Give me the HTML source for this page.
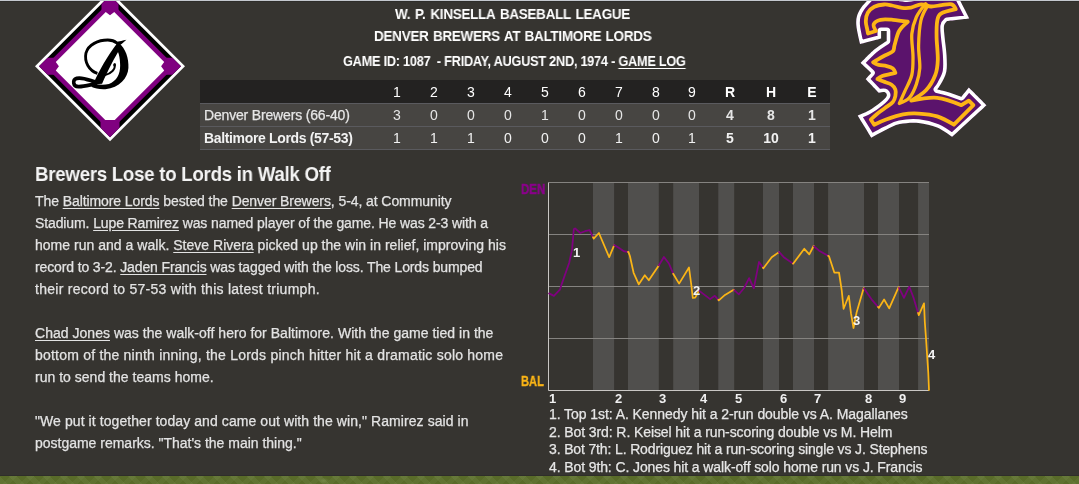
<!DOCTYPE html>
<html><head><meta charset="utf-8"><style>
html,body{margin:0;padding:0;}
body{width:1079px;height:484px;overflow:hidden;background:#363430;position:relative;font-family:"Liberation Sans",sans-serif;}
.abs{position:absolute;}
.t{position:absolute;white-space:pre;line-height:1;will-change:transform;}
.c{text-align:center;}
u{text-decoration:underline;text-underline-offset:1.5px;text-decoration-thickness:1px;}
</style></head><body>
<div class="abs" style="left:0;top:1px;width:1079px;height:1px;background:#2e2d2a"></div>
<svg class="abs" style="left:0;top:0" width="200" height="150" viewBox="0 0 200 150">
<polygon points="110,-8.700000000000003 185,66.3 110,141.3 35,66.3" fill="#ffffff"/>
<polygon points="110,-4.700000000000003 181,66.3 110,137.3 39,66.3" fill="#000000"/>
<polygon points="110,1.2999999999999972 175,66.3 110,131.3 45,66.3" fill="#800080"/>
<polygon points="110,7.799999999999997 168.5,66.3 110,124.8 51.5,66.3" fill="#ffffff"/>
<polygon points="39,66.3 47.6,57.8 55.8,57.8 55.8,62 58.9,66.3 55.8,70.6 55.8,74.8 47.6,74.8" fill="#800080" transform="rotate(0 110 66.3)"/>
<polygon points="39,66.3 47.6,57.8 55.8,57.8 55.8,62 58.9,66.3 55.8,70.6 55.8,74.8 47.6,74.8" fill="#800080" transform="rotate(90 110 66.3)"/>
<polygon points="39,66.3 47.6,57.8 55.8,57.8 55.8,62 58.9,66.3 55.8,70.6 55.8,74.8 47.6,74.8" fill="#800080" transform="rotate(180 110 66.3)"/>
<polygon points="39,66.3 48.5,56.8 56.3,56.8 56.3,75.8 48.5,75.8" fill="#800080" transform="rotate(270 110 66.3)"/>
<g transform="translate(70,34.5) scale(0.118,0.1245)"><path d="M232,312 C160,290 120,220 135,150 C155,80 240,45 320,45 C350,45 380,55 395,68" fill="none" stroke="#000" stroke-width="24"/><path d="M382,62 C420,55 450,48 478,42 C455,62 430,82 405,98 Z" fill="#000"/><path d="M415,70 C470,110 500,190 495,270 C490,350 420,430 300,440 C250,443 210,432 180,420 L215,398 C250,405 290,408 330,398 C395,372 425,318 425,250 C425,180 410,132 385,102 Z" fill="#000"/><path d="M398,72 L432,102 C380,180 320,290 272,395 L195,402 C240,300 320,170 398,72 Z" fill="#000"/><path d="M232,386 C180,376 110,338 58,352 C18,364 22,420 75,418 C125,418 175,402 228,394" fill="none" stroke="#000" stroke-width="30"/><path d="M380,240 C385,280 350,315 298,325" fill="none" stroke="#000" stroke-width="17" stroke-linecap="round"/><circle cx="377" cy="244" r="11" fill="#000"/></g>
</svg>
<svg class="abs" style="left:0;top:0" width="1079" height="160" viewBox="0 0 1079 160">
<defs><clipPath id="cl"><path d="M870.60,-3.00 C870.60,-3.00 897.00,-3.00 897.00,-3.00 C897.00,-3.00 903.83,-1.60 907.00,-1.60 C910.17,-1.60 916.00,-3.00 916.00,-3.00 C916.00,-3.00 958.30,-3.00 958.30,-3.00 C958.30,-3.00 969.40,18.60 969.40,18.60 C969.40,18.60 947.10,21.10 947.10,21.10 C947.10,21.10 944.42,23.32 944.00,26.00 C943.58,28.68 944.18,32.37 944.60,37.20 C945.02,42.03 946.22,49.25 946.50,55.00 C946.78,60.75 947.22,66.90 946.30,71.70 C945.38,76.50 942.52,80.85 941.00,83.80 C939.48,86.75 937.20,89.40 937.20,89.40 C937.20,89.40 944.27,90.97 948.30,92.20 C952.33,93.43 961.40,96.80 961.40,96.80 C961.40,96.80 968.80,87.50 968.80,87.50 C968.80,87.50 986.50,105.20 986.50,105.20 C986.50,105.20 952.10,136.80 952.10,136.80 C952.10,136.80 942.78,129.82 937.20,127.50 C931.62,125.18 924.85,123.47 918.60,122.90 C912.35,122.33 905.12,122.95 899.70,124.10 C894.28,125.25 890.83,127.53 886.10,129.80 C881.37,132.07 871.30,137.70 871.30,137.70 C871.30,137.70 857.70,115.60 857.70,115.60 C857.70,115.60 865.22,112.68 869.00,110.50 C872.78,108.32 877.45,104.93 880.40,102.50 C883.35,100.07 886.02,97.63 886.70,95.90 C887.38,94.17 885.83,92.62 884.50,92.10 C883.17,91.58 878.70,92.80 878.70,92.80 C878.70,92.80 865.60,79.10 865.60,79.10 C865.60,79.10 871.20,72.90 871.20,72.90 C871.20,72.90 860.70,63.00 860.70,63.00 C860.70,63.00 869.97,53.28 874.30,49.60 C878.63,45.92 886.70,40.90 886.70,40.90 C886.70,40.90 886.70,31.00 886.70,31.00 C886.70,31.00 881.10,31.00 881.10,31.00 C881.10,31.00 881.10,38.40 881.10,38.40 C881.10,38.40 860.10,44.00 860.10,44.00 C860.10,44.00 858.83,39.20 858.20,36.00 C857.57,32.80 856.50,28.12 856.30,24.80 C856.10,21.48 856.17,19.00 857.00,16.10 C857.83,13.20 859.03,10.58 861.30,7.40 C863.57,4.22 870.60,-3.00 870.60,-3.00 Z"/></clipPath></defs>
<path d="M870.60,-3.00 C870.60,-3.00 897.00,-3.00 897.00,-3.00 C897.00,-3.00 903.83,-1.60 907.00,-1.60 C910.17,-1.60 916.00,-3.00 916.00,-3.00 C916.00,-3.00 958.30,-3.00 958.30,-3.00 C958.30,-3.00 969.40,18.60 969.40,18.60 C969.40,18.60 947.10,21.10 947.10,21.10 C947.10,21.10 944.42,23.32 944.00,26.00 C943.58,28.68 944.18,32.37 944.60,37.20 C945.02,42.03 946.22,49.25 946.50,55.00 C946.78,60.75 947.22,66.90 946.30,71.70 C945.38,76.50 942.52,80.85 941.00,83.80 C939.48,86.75 937.20,89.40 937.20,89.40 C937.20,89.40 944.27,90.97 948.30,92.20 C952.33,93.43 961.40,96.80 961.40,96.80 C961.40,96.80 968.80,87.50 968.80,87.50 C968.80,87.50 986.50,105.20 986.50,105.20 C986.50,105.20 952.10,136.80 952.10,136.80 C952.10,136.80 942.78,129.82 937.20,127.50 C931.62,125.18 924.85,123.47 918.60,122.90 C912.35,122.33 905.12,122.95 899.70,124.10 C894.28,125.25 890.83,127.53 886.10,129.80 C881.37,132.07 871.30,137.70 871.30,137.70 C871.30,137.70 857.70,115.60 857.70,115.60 C857.70,115.60 865.22,112.68 869.00,110.50 C872.78,108.32 877.45,104.93 880.40,102.50 C883.35,100.07 886.02,97.63 886.70,95.90 C887.38,94.17 885.83,92.62 884.50,92.10 C883.17,91.58 878.70,92.80 878.70,92.80 C878.70,92.80 865.60,79.10 865.60,79.10 C865.60,79.10 871.20,72.90 871.20,72.90 C871.20,72.90 860.70,63.00 860.70,63.00 C860.70,63.00 869.97,53.28 874.30,49.60 C878.63,45.92 886.70,40.90 886.70,40.90 C886.70,40.90 886.70,31.00 886.70,31.00 C886.70,31.00 881.10,31.00 881.10,31.00 C881.10,31.00 881.10,38.40 881.10,38.40 C881.10,38.40 860.10,44.00 860.10,44.00 C860.10,44.00 858.83,39.20 858.20,36.00 C857.57,32.80 856.50,28.12 856.30,24.80 C856.10,21.48 856.17,19.00 857.00,16.10 C857.83,13.20 859.03,10.58 861.30,7.40 C863.57,4.22 870.60,-3.00 870.60,-3.00 Z" fill="#5b136c"/>
<g clip-path="url(#cl)" fill="none" stroke-linejoin="round"><path d="M870.60,-3.00 C870.60,-3.00 897.00,-3.00 897.00,-3.00 C897.00,-3.00 903.83,-1.60 907.00,-1.60 C910.17,-1.60 916.00,-3.00 916.00,-3.00 C916.00,-3.00 958.30,-3.00 958.30,-3.00 C958.30,-3.00 969.40,18.60 969.40,18.60 C969.40,18.60 947.10,21.10 947.10,21.10 C947.10,21.10 944.42,23.32 944.00,26.00 C943.58,28.68 944.18,32.37 944.60,37.20 C945.02,42.03 946.22,49.25 946.50,55.00 C946.78,60.75 947.22,66.90 946.30,71.70 C945.38,76.50 942.52,80.85 941.00,83.80 C939.48,86.75 937.20,89.40 937.20,89.40 C937.20,89.40 944.27,90.97 948.30,92.20 C952.33,93.43 961.40,96.80 961.40,96.80 C961.40,96.80 968.80,87.50 968.80,87.50 C968.80,87.50 986.50,105.20 986.50,105.20 C986.50,105.20 952.10,136.80 952.10,136.80 C952.10,136.80 942.78,129.82 937.20,127.50 C931.62,125.18 924.85,123.47 918.60,122.90 C912.35,122.33 905.12,122.95 899.70,124.10 C894.28,125.25 890.83,127.53 886.10,129.80 C881.37,132.07 871.30,137.70 871.30,137.70 C871.30,137.70 857.70,115.60 857.70,115.60 C857.70,115.60 865.22,112.68 869.00,110.50 C872.78,108.32 877.45,104.93 880.40,102.50 C883.35,100.07 886.02,97.63 886.70,95.90 C887.38,94.17 885.83,92.62 884.50,92.10 C883.17,91.58 878.70,92.80 878.70,92.80 C878.70,92.80 865.60,79.10 865.60,79.10 C865.60,79.10 871.20,72.90 871.20,72.90 C871.20,72.90 860.70,63.00 860.70,63.00 C860.70,63.00 869.97,53.28 874.30,49.60 C878.63,45.92 886.70,40.90 886.70,40.90 C886.70,40.90 886.70,31.00 886.70,31.00 C886.70,31.00 881.10,31.00 881.10,31.00 C881.10,31.00 881.10,38.40 881.10,38.40 C881.10,38.40 860.10,44.00 860.10,44.00 C860.10,44.00 858.83,39.20 858.20,36.00 C857.57,32.80 856.50,28.12 856.30,24.80 C856.10,21.48 856.17,19.00 857.00,16.10 C857.83,13.20 859.03,10.58 861.30,7.40 C863.57,4.22 870.60,-3.00 870.60,-3.00 Z" stroke="#ffffff" stroke-width="7.2"/></g>
<path d="M951.70,4.30 C954.08,4.98 955.80,9.20 955.80,9.20 C955.80,9.20 944.00,11.62 940.90,13.60 C937.80,15.58 937.92,17.17 937.20,21.10 C936.48,25.03 936.50,30.72 936.60,37.20 C936.70,43.68 938.02,53.70 937.80,60.00 C937.58,66.30 937.27,69.95 935.30,75.00 C933.33,80.05 930.02,86.03 926.00,90.30 C921.98,94.57 911.20,100.60 911.20,100.60 C911.20,100.60 928.83,97.03 937.20,97.80 C945.57,98.57 961.40,105.20 961.40,105.20 C961.40,105.20 968.80,100.60 968.80,100.60 C968.80,100.60 973.40,105.20 973.40,105.20 C973.40,105.20 953.90,124.70 953.90,124.70 C953.90,124.70 943.08,118.25 937.20,116.40 C931.32,114.55 924.28,113.93 918.60,113.60 C912.92,113.27 908.52,113.42 903.10,114.40 C897.68,115.38 890.92,117.78 886.10,119.50 C881.28,121.22 874.20,124.70 874.20,124.70 C874.20,124.70 870.80,119.50 870.80,119.50 C870.80,119.50 874.63,115.82 877.00,113.90 C879.37,111.98 882.35,109.98 885.00,108.00 C887.65,106.02 891.17,104.03 892.90,102.00 C894.63,99.97 894.98,97.87 895.40,95.80 C895.82,93.73 896.03,91.45 895.40,89.60 C894.77,87.75 893.57,86.03 891.60,84.70 C889.63,83.37 885.97,82.53 883.60,81.60 C881.23,80.67 877.40,79.10 877.40,79.10 C877.40,79.10 880.23,76.83 882.30,76.00 C884.37,75.17 887.62,74.62 889.80,74.10 C891.98,73.58 895.40,72.90 895.40,72.90 C895.40,72.90 894.35,69.63 892.90,68.50 C891.45,67.37 889.08,66.72 886.70,66.10 C884.32,65.48 880.87,65.43 878.60,64.80 C876.33,64.17 873.10,62.30 873.10,62.30 C873.10,62.30 876.05,60.43 878.00,59.30 C879.95,58.17 882.32,56.85 884.80,55.50 C887.28,54.15 891.27,52.95 892.90,51.20 C894.53,49.45 893.57,48.37 894.60,45.00 C895.63,41.63 896.90,34.88 899.10,31.00 C901.30,27.12 907.80,21.70 907.80,21.70 C907.80,21.70 897.45,20.12 892.90,19.80 C888.35,19.48 883.70,19.07 880.50,19.80 C877.30,20.53 874.45,22.33 873.70,24.20 C872.95,26.07 876.00,31.00 876.00,31.00 C876.00,31.00 868.00,33.50 868.00,33.50 C868.00,33.50 867.67,31.77 867.30,29.70 C866.93,27.63 865.72,23.92 865.80,21.10 C865.88,18.28 866.38,15.18 867.80,12.80 C869.22,10.42 871.57,8.18 874.30,6.80 C877.03,5.42 881.25,4.72 884.20,4.50 C887.15,4.28 889.03,4.95 892.00,5.50 C894.97,6.05 898.83,7.45 902.00,7.80 C905.17,8.15 907.80,8.18 911.00,7.60 C914.20,7.02 917.87,4.48 921.20,4.30 C924.53,4.12 927.62,6.37 931.00,6.50 C934.38,6.63 938.05,5.47 941.50,5.10 C944.95,4.73 949.32,3.62 951.70,4.30 Z" fill="none" stroke="#fdb515" stroke-width="3.8" stroke-linejoin="round"/>
<path d="M925.50,3.70 C925.50,3.70 918.68,11.95 916.40,17.00 C914.12,22.05 912.37,27.37 911.80,34.00 C911.23,40.63 913.00,49.97 913.00,56.80 C913.00,63.63 913.13,69.32 911.80,75.00 C910.47,80.68 907.08,86.15 905.00,90.90 C902.92,95.65 899.30,103.50 899.30,103.50 C899.30,103.50 906.65,100.93 909.50,97.70 C912.35,94.47 914.68,89.02 916.40,84.10 C918.12,79.18 919.43,74.63 919.80,68.20 C920.17,61.77 918.42,53.45 918.60,45.50 C918.78,37.55 919.42,27.08 920.90,20.50 C922.38,13.92 927.50,6.00 927.50,6.00 C927.50,6.00 925.50,3.70 925.50,3.70 Z" fill="none" stroke="#fdb515" stroke-width="3.3" stroke-linejoin="round"/>
</svg>
<div class="abs" style="left:0;top:0;width:1079px;height:1px;background:#c4c8ce"></div>
<div class="abs" style="left:200px;top:80px;width:630px;height:23px;background:#232221"></div><div class="abs" style="left:200px;top:103px;width:630px;height:1px;background:#5a5a5e"></div><div class="abs" style="left:200px;top:104px;width:630px;height:22px;background:#474542"></div><div class="abs" style="left:200px;top:126px;width:630px;height:1px;background:#5a5a5e"></div><div class="abs" style="left:200px;top:127px;width:630px;height:22px;background:#474542"></div><div class="abs" style="left:200px;top:149px;width:630px;height:1px;background:#5a5a5e"></div><div class="t c" style="left:376.8px;width:40px;top:85.15px;font-size:14px;color:#ffffff">1</div><div class="t c" style="left:376.8px;width:40px;top:108.15px;font-size:14px;color:#e6e6e6">3</div><div class="t c" style="left:376.8px;width:40px;top:130.95px;font-size:14px;color:#f2f2f2">1</div><div class="t c" style="left:413.6px;width:40px;top:85.15px;font-size:14px;color:#ffffff">2</div><div class="t c" style="left:413.6px;width:40px;top:108.15px;font-size:14px;color:#e6e6e6">0</div><div class="t c" style="left:413.6px;width:40px;top:130.95px;font-size:14px;color:#f2f2f2">1</div><div class="t c" style="left:450.6px;width:40px;top:85.15px;font-size:14px;color:#ffffff">3</div><div class="t c" style="left:450.6px;width:40px;top:108.15px;font-size:14px;color:#e6e6e6">0</div><div class="t c" style="left:450.6px;width:40px;top:130.95px;font-size:14px;color:#f2f2f2">1</div><div class="t c" style="left:487.7px;width:40px;top:85.15px;font-size:14px;color:#ffffff">4</div><div class="t c" style="left:487.7px;width:40px;top:108.15px;font-size:14px;color:#e6e6e6">0</div><div class="t c" style="left:487.7px;width:40px;top:130.95px;font-size:14px;color:#f2f2f2">0</div><div class="t c" style="left:524.7px;width:40px;top:85.15px;font-size:14px;color:#ffffff">5</div><div class="t c" style="left:524.7px;width:40px;top:108.15px;font-size:14px;color:#e6e6e6">1</div><div class="t c" style="left:524.7px;width:40px;top:130.95px;font-size:14px;color:#f2f2f2">0</div><div class="t c" style="left:561.7px;width:40px;top:85.15px;font-size:14px;color:#ffffff">6</div><div class="t c" style="left:561.7px;width:40px;top:108.15px;font-size:14px;color:#e6e6e6">0</div><div class="t c" style="left:561.7px;width:40px;top:130.95px;font-size:14px;color:#f2f2f2">0</div><div class="t c" style="left:598.5px;width:40px;top:85.15px;font-size:14px;color:#ffffff">7</div><div class="t c" style="left:598.5px;width:40px;top:108.15px;font-size:14px;color:#e6e6e6">0</div><div class="t c" style="left:598.5px;width:40px;top:130.95px;font-size:14px;color:#f2f2f2">1</div><div class="t c" style="left:635.5px;width:40px;top:85.15px;font-size:14px;color:#ffffff">8</div><div class="t c" style="left:635.5px;width:40px;top:108.15px;font-size:14px;color:#e6e6e6">0</div><div class="t c" style="left:635.5px;width:40px;top:130.95px;font-size:14px;color:#f2f2f2">0</div><div class="t c" style="left:672.3px;width:40px;top:85.15px;font-size:14px;color:#ffffff">9</div><div class="t c" style="left:672.3px;width:40px;top:108.15px;font-size:14px;color:#e6e6e6">0</div><div class="t c" style="left:672.3px;width:40px;top:130.95px;font-size:14px;color:#f2f2f2">1</div><div class="t c" style="left:710.0px;width:40px;top:85.15px;font-size:14px;font-weight:bold;color:#ffffff">R</div><div class="t c" style="left:710.0px;width:40px;top:108.15px;font-size:14px;font-weight:bold;color:#e6e6e6">4</div><div class="t c" style="left:710.0px;width:40px;top:130.95px;font-size:14px;font-weight:bold;color:#f2f2f2">5</div><div class="t c" style="left:751.0px;width:40px;top:85.15px;font-size:14px;font-weight:bold;color:#ffffff">H</div><div class="t c" style="left:751.0px;width:40px;top:108.15px;font-size:14px;font-weight:bold;color:#e6e6e6">8</div><div class="t c" style="left:751.0px;width:40px;top:130.95px;font-size:14px;font-weight:bold;color:#f2f2f2">10</div><div class="t c" style="left:792.2px;width:40px;top:85.15px;font-size:14px;font-weight:bold;color:#ffffff">E</div><div class="t c" style="left:792.2px;width:40px;top:108.15px;font-size:14px;font-weight:bold;color:#e6e6e6">1</div><div class="t c" style="left:792.2px;width:40px;top:130.95px;font-size:14px;font-weight:bold;color:#f2f2f2">1</div>
<svg class="abs" style="left:0;top:0" width="1079" height="484" viewBox="0 0 1079 484">
<rect x="593" y="182.5" width="21.1" height="208.0" fill="#504f4d"/>
<rect x="628" y="182.5" width="30.8" height="208.0" fill="#504f4d"/>
<rect x="673.2" y="182.5" width="25.8" height="208.0" fill="#504f4d"/>
<rect x="718.3" y="182.5" width="15.9" height="208.0" fill="#504f4d"/>
<rect x="763" y="182.5" width="16.0" height="208.0" fill="#504f4d"/>
<rect x="793" y="182.5" width="21.0" height="208.0" fill="#504f4d"/>
<rect x="828.1" y="182.5" width="35.9" height="208.0" fill="#504f4d"/>
<rect x="878" y="182.5" width="21.0" height="208.0" fill="#504f4d"/>
<rect x="918.1" y="182.5" width="10.9" height="208.0" fill="#504f4d"/>
<line x1="548.5" y1="182.5" x2="929" y2="182.5" stroke="#858380" stroke-width="1"/>
<line x1="548.5" y1="234.5" x2="929" y2="234.5" stroke="#858380" stroke-width="1"/>
<line x1="548.5" y1="286.5" x2="929" y2="286.5" stroke="#858380" stroke-width="1"/>
<line x1="548.5" y1="338.5" x2="929" y2="338.5" stroke="#858380" stroke-width="1"/>
<path d="M548.5 182.5 V390.5 H929" fill="none" stroke="#c9c7c4" stroke-width="1"/>
<polyline points="549.1,293.4 553.9,295.9 559.9,289.7 561.7,284.1 569.2,262.8 572.0,249.8 573.8,229.3 575.1,228.4 580.3,233.0 585.0,231.2 589.6,230.2 593.0,237.2" fill="none" stroke="#800080" stroke-width="1.75" stroke-linejoin="round" stroke-linecap="round"/>
<polyline points="593.0,237.2 593.7,238.6 598.9,233.0 609.2,257.2 614.1,245.3" fill="none" stroke="#fbb516" stroke-width="1.75" stroke-linejoin="round" stroke-linecap="round"/>
<polyline points="614.1,245.3 614.2,245.1 618.7,247.7 624.3,251.4 628.0,251.9" fill="none" stroke="#800080" stroke-width="1.75" stroke-linejoin="round" stroke-linecap="round"/>
<polyline points="628.0,251.9 628.4,251.9 629.9,256.0 633.6,272.8 638.8,284.3 644.8,275.2 648.8,280.2 658.8,265.4" fill="none" stroke="#fbb516" stroke-width="1.75" stroke-linejoin="round" stroke-linecap="round"/>
<polyline points="658.8,265.4 659.1,265.0 663.9,257.0 668.9,263.5 673.2,273.7" fill="none" stroke="#800080" stroke-width="1.75" stroke-linejoin="round" stroke-linecap="round"/>
<polyline points="673.2,273.7 673.2,273.7 679.1,283.6 689.0,267.5 691.5,286.5 692.8,298.0 695.2,297.6 699.0,290.6" fill="none" stroke="#fbb516" stroke-width="1.75" stroke-linejoin="round" stroke-linecap="round"/>
<polyline points="699.0,290.6 699.0,290.6 710.1,299.1 714.8,295.8 718.3,299.8" fill="none" stroke="#800080" stroke-width="1.75" stroke-linejoin="round" stroke-linecap="round"/>
<polyline points="718.3,299.8 718.8,300.4 725.0,294.9 733.7,289.8 734.2,290.2" fill="none" stroke="#fbb516" stroke-width="1.75" stroke-linejoin="round" stroke-linecap="round"/>
<polyline points="734.2,290.2 738.9,294.3 744.1,288.0 749.1,278.1 753.8,288.3 759.0,261.9 763.0,267.7" fill="none" stroke="#800080" stroke-width="1.75" stroke-linejoin="round" stroke-linecap="round"/>
<polyline points="763.0,267.7 763.4,268.3 771.7,257.2 779.0,252.1" fill="none" stroke="#fbb516" stroke-width="1.75" stroke-linejoin="round" stroke-linecap="round"/>
<polyline points="779.0,252.1 779.2,252.0 783.8,257.2 793.0,263.6" fill="none" stroke="#800080" stroke-width="1.75" stroke-linejoin="round" stroke-linecap="round"/>
<polyline points="793.0,263.6 793.1,263.7 804.3,248.8 809.3,254.4 813.6,246.0 814.0,246.3" fill="none" stroke="#fbb516" stroke-width="1.75" stroke-linejoin="round" stroke-linecap="round"/>
<polyline points="814.0,246.3 819.1,250.7 828.1,255.8" fill="none" stroke="#800080" stroke-width="1.75" stroke-linejoin="round" stroke-linecap="round"/>
<polyline points="828.1,255.8 829.0,256.3 834.3,272.5 839.0,272.5 841.7,290.2 843.6,308.8 848.8,295.8 851.0,313.4 853.5,328.0 856.6,312.5 863.7,288.0 864.0,288.4" fill="none" stroke="#fbb516" stroke-width="1.75" stroke-linejoin="round" stroke-linecap="round"/>
<polyline points="864.0,288.4 872.4,300.4 878.0,306.9" fill="none" stroke="#800080" stroke-width="1.75" stroke-linejoin="round" stroke-linecap="round"/>
<polyline points="878.0,306.9 878.9,307.9 884.1,299.5 889.2,308.4 898.6,287.1 899.0,287.9" fill="none" stroke="#fbb516" stroke-width="1.75" stroke-linejoin="round" stroke-linecap="round"/>
<polyline points="899.0,287.9 904.0,297.9 909.3,286.7 913.6,297.9 918.1,312.9" fill="none" stroke="#800080" stroke-width="1.75" stroke-linejoin="round" stroke-linecap="round"/>
<polyline points="918.1,312.9 918.8,315.2 924.0,303.3 924.8,321.7 926.0,338.3 927.1,355.0 928.3,372.9 929.0,390.0" fill="none" stroke="#fbb516" stroke-width="1.75" stroke-linejoin="round" stroke-linecap="round"/>
</svg>
<div class="t" style="left:549.3px;top:391.60px;font-size:13px;font-weight:bold;color:#f0f0f0">1</div><div class="t" style="left:614.6px;top:391.60px;font-size:13px;font-weight:bold;color:#f0f0f0">2</div><div class="t" style="left:659.1px;top:391.60px;font-size:13px;font-weight:bold;color:#f0f0f0">3</div><div class="t" style="left:699.5px;top:391.60px;font-size:13px;font-weight:bold;color:#f0f0f0">4</div><div class="t" style="left:734.7px;top:391.60px;font-size:13px;font-weight:bold;color:#f0f0f0">5</div><div class="t" style="left:779.5px;top:391.60px;font-size:13px;font-weight:bold;color:#f0f0f0">6</div><div class="t" style="left:813.5px;top:391.60px;font-size:13px;font-weight:bold;color:#f0f0f0">7</div><div class="t" style="left:864.5px;top:391.60px;font-size:13px;font-weight:bold;color:#f0f0f0">8</div><div class="t" style="left:898.5px;top:391.60px;font-size:13px;font-weight:bold;color:#f0f0f0">9</div><div class="t" style="left:572.9px;top:246.20px;font-size:13px;font-weight:bold;color:#f4f4f4">1</div><div class="t" style="left:693.4px;top:283.90px;font-size:13px;font-weight:bold;color:#f4f4f4">2</div><div class="t" style="left:852.9px;top:313.60px;font-size:13px;font-weight:bold;color:#f4f4f4">3</div><div class="t" style="left:927.8px;top:347.60px;font-size:13px;font-weight:bold;color:#f4f4f4">4</div>
<div class="t" style="left:395.0px;top:7.45px;font-size:14px;font-weight:bold;color:#fff;letter-spacing:-0.300px;word-spacing:1.5px;transform:scaleX(0.9627);transform-origin:0 0;">W. P. KINSELLA BASEBALL LEAGUE</div>
<div class="t" style="left:374.0px;top:28.55px;font-size:14px;font-weight:bold;color:#fff;letter-spacing:-0.300px;word-spacing:1px;transform:scaleX(0.9637);transform-origin:0 0;">DENVER BREWERS AT BALTIMORE LORDS</div>
<div class="t" style="left:343.0px;top:53.95px;font-size:14px;font-weight:bold;color:#fff;letter-spacing:-0.300px;word-spacing:0px;transform:scaleX(0.9127);transform-origin:0 0;">GAME ID: 1087 &nbsp;- FRIDAY, AUGUST 2ND, 1974 - <u>GAME LOG</u></div>
<div class="t" style="-webkit-text-stroke:0.25px currentColor;left:204.0px;top:108.15px;font-size:14px;color:#e6e6e6;letter-spacing:-0.171px;word-spacing:0px;">Denver Brewers (66-40)</div>
<div class="t" style="left:204.0px;top:130.95px;font-size:14px;font-weight:bold;color:#f2f2f2;letter-spacing:-0.344px;word-spacing:0px;">Baltimore Lords (57-53)</div>
<div class="t" style="left:35.4px;top:163.99px;font-size:20.8px;font-weight:bold;color:#f4f4f4;letter-spacing:-0.300px;word-spacing:0px;transform:scaleX(0.8983);transform-origin:0 0;">Brewers Lose to Lords in Walk Off</div>
<div class="t" style="-webkit-text-stroke:0.25px currentColor;left:35.3px;top:193.95px;font-size:14px;color:#e3e3e3;letter-spacing:-0.084px;word-spacing:0px;">The <u>Baltimore Lords</u> bested the <u>Denver Brewers</u>, 5-4, at Community</div>
<div class="t" style="-webkit-text-stroke:0.25px currentColor;left:35.3px;top:215.95px;font-size:14px;color:#e3e3e3;letter-spacing:-0.113px;word-spacing:0px;">Stadium. <u>Lupe Ramirez</u> was named player of the game. He was 2-3 with a</div>
<div class="t" style="-webkit-text-stroke:0.25px currentColor;left:35.3px;top:237.95px;font-size:14px;color:#e3e3e3;letter-spacing:0.023px;word-spacing:0px;">home run and a walk. <u>Steve Rivera</u> picked up the win in relief, improving his</div>
<div class="t" style="-webkit-text-stroke:0.25px currentColor;left:35.3px;top:259.95px;font-size:14px;color:#e3e3e3;letter-spacing:-0.128px;word-spacing:0px;">record to 3-2. <u>Jaden Francis</u> was tagged with the loss. The Lords bumped</div>
<div class="t" style="-webkit-text-stroke:0.25px currentColor;left:35.3px;top:281.95px;font-size:14px;color:#e3e3e3;letter-spacing:0.266px;word-spacing:0px;">their record to 57-53 with this latest triumph.</div>
<div class="t" style="-webkit-text-stroke:0.25px currentColor;left:35.3px;top:325.95px;font-size:14px;color:#e3e3e3;letter-spacing:0.026px;word-spacing:0px;"><u>Chad Jones</u> was the walk-off hero for Baltimore. With the game tied in the</div>
<div class="t" style="-webkit-text-stroke:0.25px currentColor;left:35.3px;top:347.95px;font-size:14px;color:#e3e3e3;letter-spacing:0.214px;word-spacing:0px;">bottom of the ninth inning, the Lords pinch hitter hit a dramatic solo home</div>
<div class="t" style="-webkit-text-stroke:0.25px currentColor;left:35.3px;top:369.95px;font-size:14px;color:#e3e3e3;letter-spacing:0.015px;word-spacing:0px;">run to send the teams home.</div>
<div class="t" style="-webkit-text-stroke:0.25px currentColor;left:35.3px;top:413.95px;font-size:14px;color:#e3e3e3;letter-spacing:0.077px;word-spacing:0px;">"We put it together today and came out with the win," Ramirez said in</div>
<div class="t" style="-webkit-text-stroke:0.25px currentColor;left:35.3px;top:435.95px;font-size:14px;color:#e3e3e3;letter-spacing:-0.011px;word-spacing:0px;">postgame remarks. "That's the main thing."</div>
<div class="t" style="-webkit-text-stroke:0.25px currentColor;left:549.0px;top:407.05px;font-size:14px;color:#e6e6e6;letter-spacing:-0.065px;word-spacing:0px;">1. Top 1st: A. Kennedy hit a 2-run double vs A. Magallanes</div>
<div class="t" style="-webkit-text-stroke:0.25px currentColor;left:549.0px;top:424.70px;font-size:14px;color:#e6e6e6;letter-spacing:-0.093px;word-spacing:0px;">2. Bot 3rd: R. Keisel hit a run-scoring double vs M. Helm</div>
<div class="t" style="-webkit-text-stroke:0.25px currentColor;left:549.0px;top:442.35px;font-size:14px;color:#e6e6e6;letter-spacing:-0.142px;word-spacing:0px;">3. Bot 7th: L. Rodriguez hit a run-scoring single vs J. Stephens</div>
<div class="t" style="-webkit-text-stroke:0.25px currentColor;left:549.0px;top:460.00px;font-size:14px;color:#e6e6e6;letter-spacing:-0.107px;word-spacing:0px;">4. Bot 9th: C. Jones hit a walk-off solo home run vs J. Francis</div>
<div class="t" style="left:521.0px;top:182.05px;font-size:14px;font-weight:bold;color:#8b008b;letter-spacing:0.000px;word-spacing:0px;transform:scaleX(0.8186);transform-origin:0 0;-webkit-text-stroke:0.45px #8b008b;">DEN</div>
<div class="t" style="left:521.0px;top:374.15px;font-size:14px;font-weight:bold;color:#fbb516;letter-spacing:0.000px;word-spacing:0px;transform:scaleX(0.7922);transform-origin:0 0;-webkit-text-stroke:0.45px #fbb516;">BAL</div>
<div class="abs" style="left:0;top:475px;width:1079px;height:1px;background:#2f2e2a"></div><div class="abs" style="left:0;top:476px;width:1079px;height:8px;background:#596b29;background-image:radial-gradient(ellipse 6px 3px at 30% 60%,rgba(150,170,110,0.35),rgba(0,0,0,0)),repeating-linear-gradient(45deg,rgba(140,160,100,0.16) 0 5px,rgba(0,0,0,0) 5px 12px),repeating-linear-gradient(-45deg,rgba(140,160,100,0.12) 0 5px,rgba(0,0,0,0) 5px 12px)"></div>
</body></html>
